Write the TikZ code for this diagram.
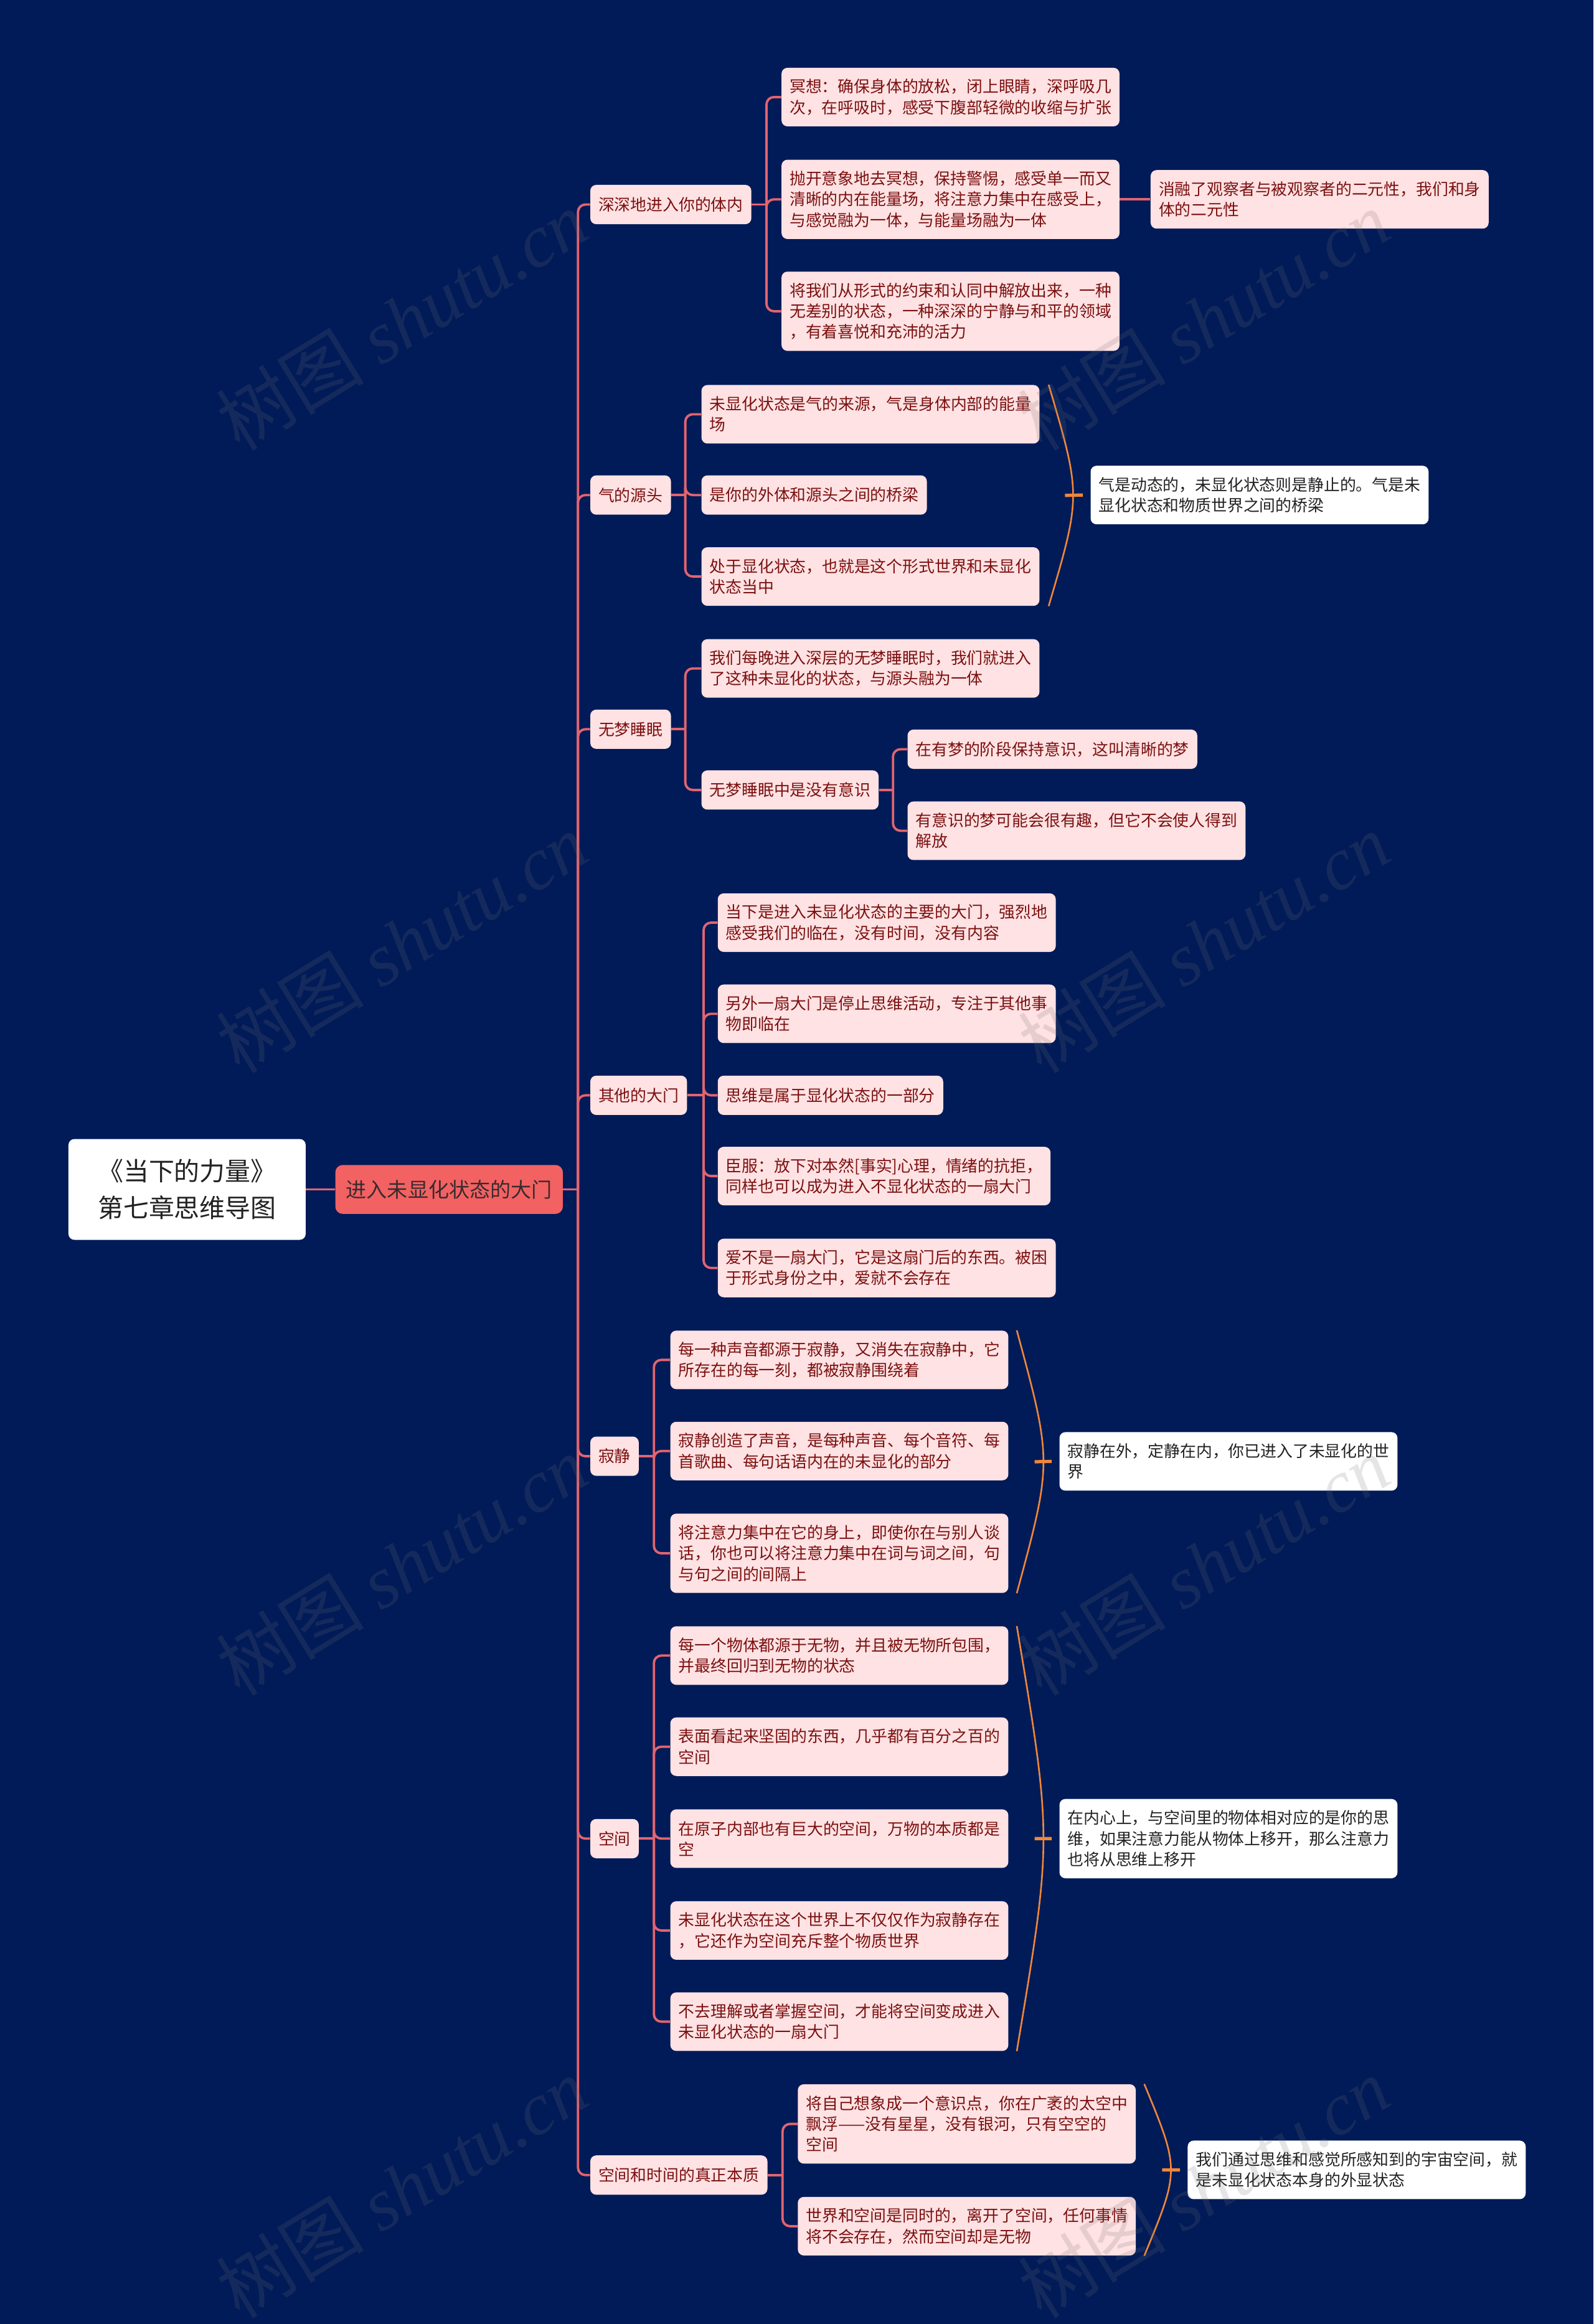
\documentclass[tikz,border=0pt]{standalone}
\usepackage{fontspec}
\setmainfont{Noto Sans CJK SC}
\newfontfamily\wmserif{Liberation Serif}
\usetikzlibrary{calc}

\definecolor{bgnavy}{HTML}{011B58}
\definecolor{linepink}{HTML}{E2646F}
\definecolor{boxpink}{HTML}{FFE2E3}
\definecolor{txtred}{HTML}{7B1010}
\definecolor{mainred}{HTML}{F26262}
\definecolor{maintxt}{HTML}{3A2A2E}
\definecolor{brorange}{HTML}{F0873A}
\definecolor{wtxt}{HTML}{222222}
\definecolor{wmgray}{HTML}{707070}

\tikzset{
  mmbase/.style={rounded corners=4pt, inner xsep=5.5pt, inner ysep=0pt, align=left,
    anchor=west, font=\fontsize{10.85}{14}\selectfont},
  pbox/.style={mmbase, fill=boxpink, text=txtred},
  wbox/.style={mmbase, fill=white, text=wtxt},
  lone/.style={minimum height=26.5pt},
  ltwo/.style={minimum height=39.5pt},
  lthree/.style={minimum height=53.5pt},
  mmconn/.style={draw=linepink, line width=1.6pt, rounded corners=5pt},
  mmbrace/.style={draw=brorange, line width=1.1pt},
  mmtick/.style={draw=brorange, line width=2.2pt},
  wmark/.style={text=wmgray, opacity=0.18, font=\fontsize{50}{50}\selectfont, inner sep=0pt},
}

\begin{document}
\begin{tikzpicture}[x=1pt, y=-1pt]
\fill[bgnavy] (0,0) rectangle (1075,1568);
\useasboundingbox (0,0) rectangle (1075,1568);

% root and main
\node[rounded corners=4pt, fill=white, text=wtxt, align=center, minimum width=160pt,
  minimum height=68pt, inner sep=0pt, anchor=west, font=\fontsize{17.2}{25}\selectfont]
  (root) at (46,802.5) {《当下的力量》\\第七章思维导图};
\node[rounded corners=5pt, fill=mainred, text=maintxt, minimum width=153.5pt,
  minimum height=33pt, inner sep=0pt, anchor=west, font=\fontsize{13.9}{16}\selectfont]
  (main) at (226,802.5) {进入未显化状态的大门};

% level 1
\node[pbox,lone] (n1) at (398,138) {深深地进入你的体内};
\node[pbox,lone] (n2) at (398,334) {气的源头};
\node[pbox,lone] (n3) at (398,492) {无梦睡眠};
\node[pbox,lone] (n4) at (398,739) {其他的大门};
\node[pbox,lone] (n5) at (398,982.5) {寂静};
\node[pbox,lone] (n6) at (398,1240.5) {空间};
\node[pbox,lone] (n7) at (398,1467.5) {空间和时间的真正本质};

% group 1
\node[pbox,ltwo] (g1a) at (527,65.5) {冥想：确保身体的放松，闭上眼睛，深呼吸几\\次，在呼吸时，感受下腹部轻微的收缩与扩张};
\node[pbox,lthree] (g1b) at (527,134.5) {抛开意象地去冥想，保持警惕，感受单一而又\\清晰的内在能量场，将注意力集中在感受上，\\与感觉融为一体，与能量场融为一体};
\node[pbox,ltwo] (g1bx) at (776,134.5) {消融了观察者与被观察者的二元性，我们和身\\体的二元性};
\node[pbox,lthree] (g1c) at (527,210) {将我们从形式的约束和认同中解放出来，一种\\无差别的状态，一种深深的宁静与和平的领域\\，有着喜悦和充沛的活力};

% group 2
\node[pbox,ltwo] (g2a) at (473,279.5) {未显化状态是气的来源，气是身体内部的能量\\场};
\node[pbox,lone] (g2b) at (473,334) {是你的外体和源头之间的桥梁};
\node[pbox,ltwo] (g2c) at (473,389) {处于显化状态，也就是这个形式世界和未显化\\状态当中};
\node[wbox,ltwo] (g2s) at (735.5,334) {气是动态的，未显化状态则是静止的。气是未\\显化状态和物质世界之间的桥梁};

% group 3
\node[pbox,ltwo] (g3a) at (473,451) {我们每晚进入深层的无梦睡眠时，我们就进入\\了这种未显化的状态，与源头融为一体};
\node[pbox,lone] (g3b) at (473,533) {无梦睡眠中是没有意识};
\node[pbox,lone] (g3b1) at (612,505.5) {在有梦的阶段保持意识，这叫清晰的梦};
\node[pbox,ltwo] (g3b2) at (612,560.5) {有意识的梦可能会很有趣，但它不会使人得到\\解放};

% group 4
\node[pbox,ltwo] (g4a) at (484,622.5) {当下是进入未显化状态的主要的大门，强烈地\\感受我们的临在，没有时间，没有内容};
\node[pbox,ltwo] (g4b) at (484,684) {另外一扇大门是停止思维活动，专注于其他事\\物即临在};
\node[pbox,lone] (g4c) at (484,739) {思维是属于显化状态的一部分};
\node[pbox,ltwo] (g4d) at (484,793.5) {臣服：放下对本然[事实]心理，情绪的抗拒，\\同样也可以成为进入不显化状态的一扇大门};
\node[pbox,ltwo] (g4e) at (484,855.5) {爱不是一扇大门，它是这扇门后的东西。被困\\于形式身份之中，爱就不会存在};

% group 5
\node[pbox,ltwo] (g5a) at (452,917.5) {每一种声音都源于寂静，又消失在寂静中，它\\所存在的每一刻，都被寂静围绕着};
\node[pbox,ltwo] (g5b) at (452,979) {寂静创造了声音，是每种声音、每个音符、每\\首歌曲、每句话语内在的未显化的部分};
\node[pbox,lthree] (g5c) at (452,1048) {将注意力集中在它的身上，即使你在与别人谈\\话，你也可以将注意力集中在词与词之间，句\\与句之间的间隔上};
\node[wbox,ltwo] (g5s) at (714.5,986) {寂静在外，定静在内，你已进入了未显化的世\\界};

% group 6
\node[pbox,ltwo] (g6a) at (452,1117) {每一个物体都源于无物，并且被无物所包围，\\并最终回归到无物的状态};
\node[pbox,ltwo] (g6b) at (452,1178.5) {表面看起来坚固的东西，几乎都有百分之百的\\空间};
\node[pbox,ltwo] (g6c) at (452,1240.5) {在原子内部也有巨大的空间，万物的本质都是\\空};
\node[pbox,ltwo] (g6d) at (452,1302.5) {未显化状态在这个世界上不仅仅作为寂静存在\\，它还作为空间充斥整个物质世界};
\node[pbox,ltwo] (g6e) at (452,1364) {不去理解或者掌握空间，才能将空间变成进入\\未显化状态的一扇大门};
\node[wbox,lthree] (g6s) at (714.5,1240.5) {在内心上，与空间里的物体相对应的是你的思\\维，如果注意力能从物体上移开，那么注意力\\也将从思维上移开};

% group 7
\node[pbox,lthree] (g7a) at (538,1433) {将自己想象成一个意识点，你在广袤的太空中\\飘浮——没有星星，没有银河，只有空空的\\空间};
\node[pbox,ltwo] (g7b) at (538,1502) {世界和空间是同时的，离开了空间，任何事情\\将不会存在，然而空间却是无物};
\node[wbox,ltwo] (g7s) at (801,1464) {我们通过思维和感觉所感知到的宇宙空间，就\\是未显化状态本身的外显状态};

% connectors
\draw[mmconn] (root.east) -- (main.west);
\coordinate (jm) at ($(main.east)+(10,0)$);
\draw[mmconn] (main.east) -- (jm);
\foreach \c in {n1,n2,n3,n4,n5,n6,n7} \draw[mmconn] (jm) |- (\c.west);

\coordinate (j1) at ($(n1.east)+(10,0)$);
\draw[mmconn] (n1.east) -- (j1);
\foreach \c in {g1a,g1b,g1c} \draw[mmconn] (j1) |- (\c.west);
\draw[mmconn] (g1b.east) -- (g1bx.west);

\coordinate (j2) at ($(n2.east)+(9.5,0)$);
\draw[mmconn] (n2.east) -- (j2);
\foreach \c in {g2a,g2b,g2c} \draw[mmconn] (j2) |- (\c.west);

\coordinate (j3) at ($(n3.east)+(9.5,0)$);
\draw[mmconn] (n3.east) -- (j3);
\foreach \c in {g3a,g3b} \draw[mmconn] (j3) |- (\c.west);
\coordinate (j3b) at ($(g3b.east)+(9.5,0)$);
\draw[mmconn] (g3b.east) -- (j3b);
\foreach \c in {g3b1,g3b2} \draw[mmconn] (j3b) |- (\c.west);

\coordinate (j4) at ($(n4.east)+(11,0)$);
\draw[mmconn] (n4.east) -- (j4);
\foreach \c in {g4a,g4b,g4c,g4d,g4e} \draw[mmconn] (j4) |- (\c.west);

\coordinate (j5) at ($(n5.east)+(10,0)$);
\draw[mmconn] (n5.east) -- (j5);
\foreach \c in {g5a,g5b,g5c} \draw[mmconn] (j5) |- (\c.west);

\coordinate (j6) at ($(n6.east)+(10,0)$);
\draw[mmconn] (n6.east) -- (j6);
\foreach \c in {g6a,g6b,g6c,g6d,g6e} \draw[mmconn] (j6) |- (\c.west);

\coordinate (j7) at ($(n7.east)+(10,0)$);
\draw[mmconn] (n7.east) -- (j7);
\foreach \c in {g7a,g7b} \draw[mmconn] (j7) |- (\c.west);

% brackets
% group 2
\coordinate (b2t) at ($(g2a.north east)+(6,0)$);
\coordinate (b2b) at ($(g2c.south east)+(6,0)$);
\coordinate (b2m) at ($(b2t)!0.5!(b2b)+(11,0)$);
\draw[mmbrace] (b2t) .. controls ($(b2t)!0.5!(b2b)+(22,0)$) .. (b2b);
\draw[mmtick] (b2m) -- ($(g2s.west)+(-5,0)$);
% group 5
\coordinate (b5t) at ($(g5a.north east)+(5.5,0)$);
\coordinate (b5b) at ($(g5c.south east)+(5.5,0)$);
\coordinate (b5m) at ($(b5t)!0.5!(b5b)+(12,0)$);
\draw[mmbrace] (b5t) .. controls ($(b5t)!0.5!(b5b)+(24,0)$) .. (b5b);
\draw[mmtick] (b5m) -- ($(g5s.west)+(-5,0)$);
% group 6
\coordinate (b6t) at ($(g6a.north east)+(5.5,0)$);
\coordinate (b6b) at ($(g6e.south east)+(5.5,0)$);
\coordinate (b6m) at ($(b6t)!0.5!(b6b)+(12,0)$);
\draw[mmbrace] (b6t) .. controls ($(b6t)!0.5!(b6b)+(24,0)$) .. (b6b);
\draw[mmtick] (b6m) -- ($(g6s.west)+(-5,0)$);
% group 7
\coordinate (b7t) at ($(g7a.north east)+(5.5,0)$);
\coordinate (b7b) at ($(g7b.south east)+(5.5,0)$);
\coordinate (b7m) at ($(b7t)!0.5!(b7b)+(12,0)$);
\draw[mmbrace] (b7t) .. controls ($(b7t)!0.5!(b7b)+(24,0)$) .. (b7b);
\draw[mmtick] (b7m) -- ($(g7s.west)+(-5,0)$);

% watermarks
\foreach \wx in {271,812} {
  \foreach \wy in {216,636,1056,1476} {
    \node[wmark, rotate=31.5] at (\wx,\wy) {树图 {\wmserif\itshape shutu.cn}};
  }
}
\end{tikzpicture}
\end{document}
